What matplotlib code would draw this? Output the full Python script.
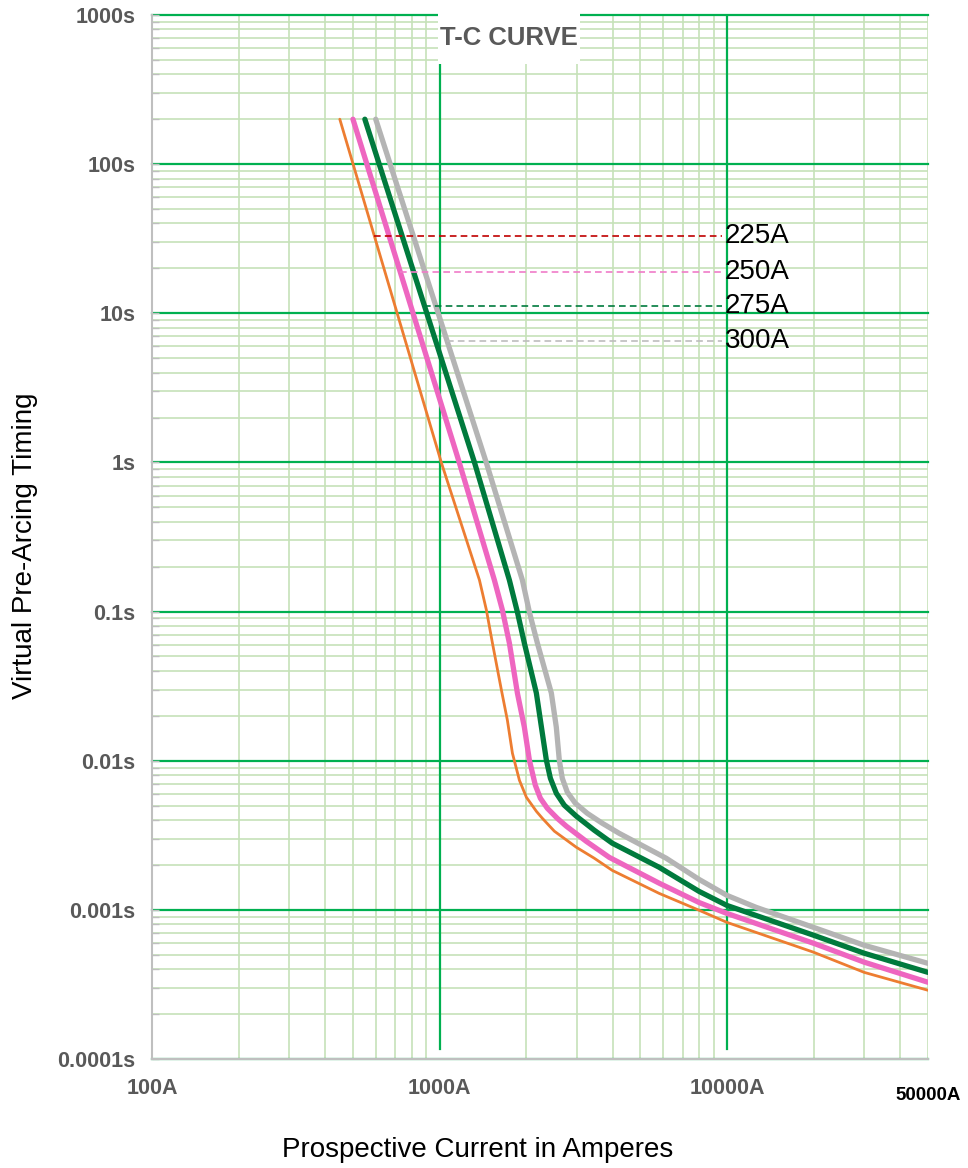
import matplotlib
matplotlib.use("Agg")
import matplotlib.pyplot as plt
from matplotlib.patches import Rectangle
from matplotlib.ticker import LogLocator, NullFormatter, FixedLocator
import numpy as np

# fuse ratings and their time-current curves (current in A, time in s)
ratings = ["225A", "250A", "275A", "300A"]

amps_225 = [450, 1016, 1377, 1456, 1528, 1642, 1722, 1793, 1896, 2005, 2172, 2279,
            2508, 2990, 3453, 3988, 5806, 7995, 10000, 20000, 30000, 50000]
secs_225 = [200, 0.99, 0.1625, 0.1022, 0.0614, 0.0297, 0.0187, 0.01123, 0.0074, 0.00569, 0.00458, 0.00411,
            0.00337, 0.00263, 0.00222, 0.00184, 0.00129, 0.000994, 0.000824, 0.00052, 0.000381, 0.000289]

amps_250 = [500, 1173, 1552, 1655, 1750, 1866, 1973, 2054, 2154, 2243, 2371, 2568,
            2761, 3239, 3893, 5806, 7995, 10000, 20000, 30000, 50000]
secs_250 = [200, 0.99, 0.1625, 0.1022, 0.0614, 0.0284, 0.01678, 0.01008, 0.00685, 0.0056, 0.0048, 0.00411,
            0.00364, 0.00288, 0.00225, 0.00151, 0.00112, 0.000946, 0.000597, 0.000446, 0.000327]

amps_275 = [550, 1323, 1750, 1866, 1973, 2172, 2262, 2353, 2430, 2548, 2716, 2990,
            3453, 3988, 5806, 7995, 10000, 20000, 30000, 50000]
secs_275 = [200, 1.0, 0.1625, 0.0991, 0.0614, 0.0284, 0.01678, 0.01008, 0.00763, 0.00605, 0.00503, 0.00425,
            0.00342, 0.0028, 0.00193, 0.00133, 0.00107, 0.000676, 0.000512, 0.000381]

amps_300 = [600, 1456, 1942, 2054, 2190, 2449, 2548, 2610, 2673, 2783, 2967, 3265,
            3681, 4217, 6141, 7995, 10000, 12620, 20000, 30000, 50000]
secs_300 = [200, 0.99, 0.1625, 0.0991, 0.0614, 0.0284, 0.01678, 0.01008, 0.00763, 0.00615, 0.00519, 0.00444,
            0.00381, 0.00326, 0.00222, 0.0016, 0.00125, 0.00104, 0.000763, 0.000579, 0.000438]

# time at which each rating is labelled, and where the leader ends / text starts
label_secs = [33, 19, 11.2, 6.5]
leader_end = 9600
label_x = 9800

ytick_vals = [1e-4, 1e-3, 1e-2, 1e-1, 1, 10, 100, 1000]
ytick_text = ["0.0001s", "0.001s", "0.01s", "0.1s", "1s", "10s", "100s", "1000s"]
xtick_vals = [100, 1000, 10000]
xtick_text = ["100A", "1000A", "10000A"]

curve_colors = ["#ed7d31", "#ee66c0", "#007a3d", "#b4b4b4"]
curve_widths = [2.0, 3.8, 3.8, 3.8]
dash_colors = ["#c00000", "#f07cc8", "#007a3d", "#bdbdbd"]

major_green = "#00b050"
minor_green = "#c6e2b9"
label_gray = "#595959"
sans = ["Liberation Sans", "DejaVu Sans"]


def crossing(amps, secs, level):
    # current where a curve reaches the given time, interpolated on log scales
    la = np.log10(amps)[::-1]
    ls = np.log10(secs)[::-1]
    return 10 ** np.interp(np.log10(level), ls, la)


fig = plt.figure(figsize=(9.68, 11.68), dpi=100)
ax = fig.add_axes([0.157, 0.0933, 0.8017, 0.8939])
ax.set_xscale("log")
ax.set_yscale("log")
ax.set_xlim(100, 50000)
ax.set_ylim(1e-4, 1000)

# grid: light green minor lines, strong green major time lines
ax.yaxis.set_minor_locator(LogLocator(base=10, subs=np.arange(2, 10), numticks=100))
ax.xaxis.set_minor_locator(LogLocator(base=10, subs=np.arange(2, 10), numticks=100))
ax.yaxis.set_minor_formatter(NullFormatter())
ax.xaxis.set_minor_formatter(NullFormatter())
ax.set_axisbelow(True)
ax.grid(which="minor", axis="both", color=minor_green, lw=1.2)
ax.grid(which="major", axis="y", color=major_green, lw=1.6)
for gl in ax.get_ygridlines() + ax.get_xgridlines():
    gl.set_clip_on(False)
for xv in [1000, 10000]:
    ax.axvline(xv, ymin=0.01, ymax=1, color=major_green, lw=1.6, zorder=0.8)

for s in ["top", "right"]:
    ax.spines[s].set_visible(False)
for s in ["left", "bottom"]:
    ax.spines[s].set_color("#bfbfbf")
    ax.spines[s].set_linewidth(1.5)

ax.yaxis.set_major_locator(FixedLocator(ytick_vals))
ax.set_yticklabels(ytick_text)
ax.xaxis.set_major_locator(FixedLocator(xtick_vals))
ax.set_xticklabels(xtick_text)
ax.tick_params(axis="y", which="both", direction="in", color="#bfbfbf", length=5, width=1, pad=12)
ax.tick_params(axis="x", which="both", length=0, pad=14)
for lab in ax.get_xticklabels() + ax.get_yticklabels():
    lab.set_family(sans)
    lab.set_weight("bold")
    lab.set_size(15.5)
    lab.set_color(label_gray)

ax.text(50000, -0.0345, "50000A", transform=ax.get_xaxis_transform(), ha="center", va="center",
        family=sans, weight="bold", fontsize=13.5, color="black", clip_on=False)

# title box sitting over the top gridlines
ax.add_patch(Rectangle((0.369, 0.953), 0.182, 0.05, transform=ax.transAxes,
                       facecolor="white", edgecolor="none", zorder=1, clip_on=False))
ax.text(0.46, 0.978, "T-C CURVE", transform=ax.transAxes, ha="center", va="center",
        family=sans, weight="bold", fontsize=18.5, color=label_gray, zorder=5)

# curves
curves = [(amps_225, secs_225), (amps_250, secs_250), (amps_275, secs_275), (amps_300, secs_300)]
for (a, s), c, w in zip(curves, curve_colors, curve_widths):
    ax.plot(a, s, color=c, lw=w, solid_capstyle="round", solid_joinstyle="round", zorder=3)

# dashed leaders to the rating labels, drawn over the curves
for (a, s), lvl, dc, name in zip(curves, label_secs, dash_colors, ratings):
    x0 = crossing(a, s, lvl)
    ax.plot([x0, leader_end], [lvl, lvl], color=dc, lw=1.2, dashes=(4, 2.5), zorder=4)
    ax.text(label_x, lvl, name, ha="left", va="center", fontsize=20,
            family=sans, color="black", zorder=5)

fig.text(25 / 968, 1 - 546 / 1168, "Virtual Pre-Arcing Timing", rotation=90,
         ha="center", va="center", fontsize=20, family=sans)
fig.text(478 / 968, 1 - 1150 / 1168, "Prospective Current in Amperes",
         ha="center", va="center", fontsize=20, family=sans)

fig.savefig("out.png", dpi=100)
plt.close(fig)
